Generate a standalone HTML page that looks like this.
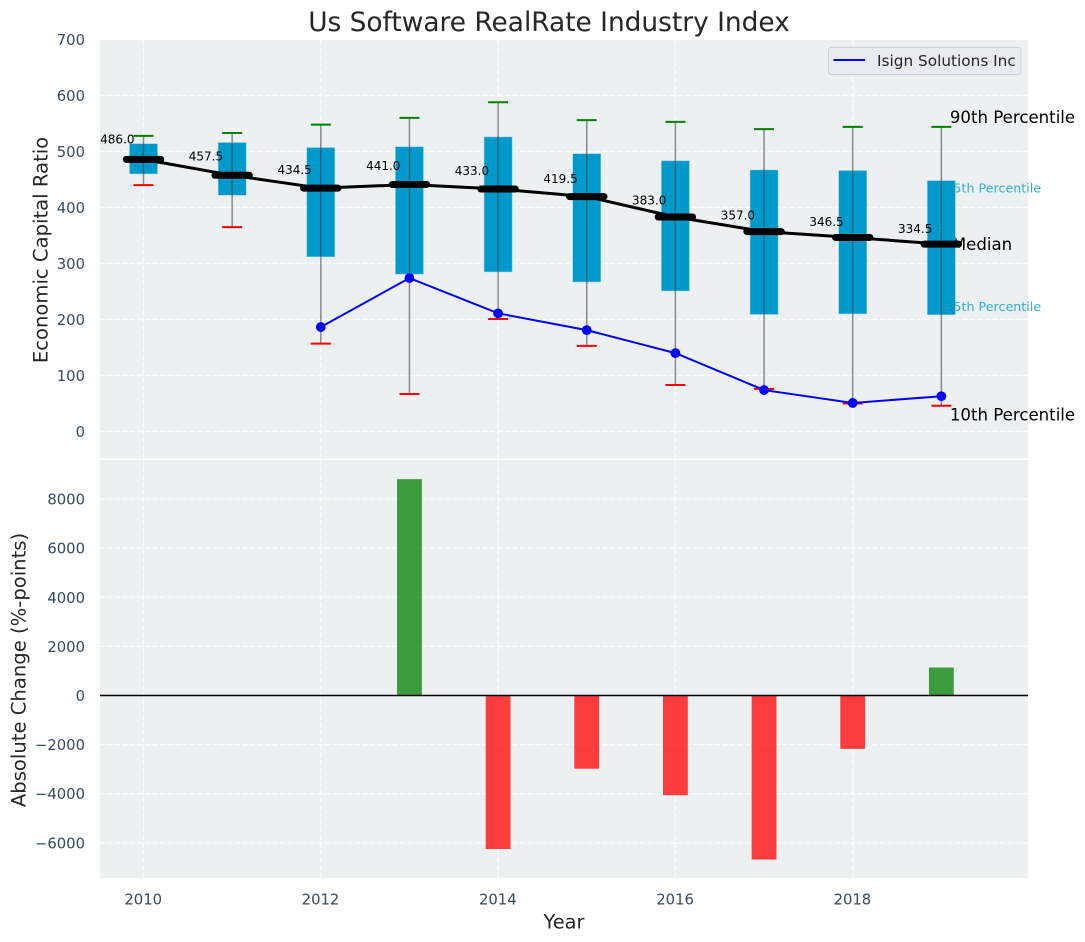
<!DOCTYPE html>
<html lang="en">
<head>
<meta charset="utf-8">
<title>Us Software RealRate Industry Index</title>
<style>
html,body{margin:0;padding:0;background:#fff;width:1085px;height:942px;overflow:hidden}
svg{display:block;font-family:"DejaVu Sans","Liberation Sans",sans-serif}
</style>
</head>
<body>
<svg id="chart" xmlns="http://www.w3.org/2000/svg" width="1085" height="942" viewBox="0 0 1085 942">
  <rect width="1085" height="942" fill="#ffffff"/>
  <rect x="100" y="40" width="928" height="418.5" fill="#ecf0f1"/>
  <rect x="100" y="460" width="928" height="418" fill="#ecf0f1"/>
  <g id="grid"></g>
  <g id="under"></g>
  <g id="bars"></g>
  <g id="boxes"></g>
  <g id="axes"></g>
  <text x="549" y="31" font-size="26.4px" fill="#262626" text-anchor="middle">Us Software RealRate Industry Index</text>
  <text transform="translate(47.5,250) rotate(-90)" font-size="19.6px" fill="#262626" text-anchor="middle">Economic Capital Ratio</text>
  <text transform="translate(25.5,670) rotate(-90)" font-size="19.6px" fill="#262626" text-anchor="middle">Absolute Change (%-points)</text>
  <text x="564" y="928.5" font-size="19.4px" fill="#262626" text-anchor="middle">Year</text>
  <g>
    <rect x="828.5" y="47.5" width="192.5" height="27" rx="3" fill="#eaeaf2" stroke="#cfd0d6" stroke-width="1"/>
    <line x1="833.5" y1="60" x2="865" y2="60" stroke="#0000ff" stroke-width="2"/>
    <text x="877" y="66" font-size="15.3px" fill="#262626">Isign Solutions Inc</text>
  </g>
</svg>
<script>
const years = [2010, 2011, 2012, 2013, 2014, 2015, 2016, 2017, 2018, 2019];
const p90 = [528, 533, 548, 560, 588, 556, 553, 540, 544, 544];
const p75 = [514, 516, 507, 508.5, 526, 496, 483.5, 467, 466, 448];
const median = [486.0, 457.5, 434.5, 441.0, 433.0, 419.5, 383.0, 357.0, 346.5, 334.5];
const p25 = [460, 422, 312, 281, 285, 267, 251, 209, 210, 208.5];
const p10 = [440, 365, 157, 67, 201, 153, 83, 76, 50, 46];
const companyYears = [2012, 2013, 2014, 2015, 2016, 2017, 2018, 2019];
const companyValues = [186.5, 274, 211, 181, 140, 74, 51, 63];
const changeYears = [2013, 2014, 2015, 2016, 2017, 2018, 2019];
const changeValues = [8810, -6250, -2980, -4060, -6680, -2170, 1140];
const xTicks = [2010, 2012, 2014, 2016, 2018];
const topYTicks = [0, 100, 200, 300, 400, 500, 600, 700];
const bottomYTicks = [-6000, -4000, -2000, 0, 2000, 4000, 6000, 8000];

const NS = 'http://www.w3.org/2000/svg';
const xScale = v => 143.5 + (v - 2010) * 88.65;
const yTop = v => 431.5 - v * 0.56;
const yBottom = v => 695.5 - v * 0.02456;
const PLOT_LEFT = 100, PLOT_RIGHT = 1028;

function make(parent, tag, props, text) {
  const el = document.createElementNS(NS, tag);
  for (const k in props) el.setAttribute(k, props[k]);
  if (text !== undefined) el.textContent = text;
  document.getElementById(parent).appendChild(el);
  return el;
}
const GRID = {stroke: '#ffffff', 'stroke-width': 1.2, 'stroke-dasharray': '5 2.5', 'stroke-opacity': 0.85};

topYTicks.forEach(t => {
  const el = make('grid', 'line', {x1: PLOT_LEFT, x2: PLOT_RIGHT, y1: yTop(t), y2: yTop(t), ...GRID});
  
  
  const lab = make('axes', 'text', {x: 85, y: yTop(t) + 5.5, 'font-size': '14.8px', fill: '#34495e', 'text-anchor': 'end'}, String(t));
  
  
});
bottomYTicks.forEach(t => {
  const el = make('grid', 'line', {x1: PLOT_LEFT, x2: PLOT_RIGHT, y1: yBottom(t), y2: yBottom(t), ...GRID});
  
  
  const lab = make('axes', 'text', {x: 85, y: yBottom(t) + 5.5, 'font-size': '14.8px', fill: '#34495e', 'text-anchor': 'end'}, String(t).replace('-', '\u2212'));
  
  
});
xTicks.forEach(t => {
  const a = make('grid', 'line', {x1: xScale(t), x2: xScale(t), y1: 40, y2: 458.5, ...GRID});
  
  
  const b = make('grid', 'line', {x1: xScale(t), x2: xScale(t), y1: 460, y2: 878, ...GRID});
  
  
  const lab = make('axes', 'text', {x: xScale(t) - 0.3, y: 904.5, 'font-size': '14.8px', fill: '#34495e', 'text-anchor': 'middle'}, String(t));
  
  
});

const last = years.length - 1;
const l75 = make('under', 'text', {x: xScale(years[last]) + 4, y: yTop(p75[last]) + 11.7, 'font-size': '12.7px', fill: '#1ea5d2', 'fill-opacity': 0.9}, '75th Percentile');


const l25 = make('under', 'text', {x: xScale(years[last]) + 4, y: yTop(p25[last]) - 3.7, 'font-size': '12.7px', fill: '#1ea5d2', 'fill-opacity': 0.9}, '25th Percentile');


const lMed = make('under', 'text', {x: xScale(years[last]) + 10.5, y: yTop(median[last]) + 6, 'font-size': '16.6px', fill: '#000000'}, 'Median');



changeYears.forEach((yr, i) => {
  const v = changeValues[i], y0 = yBottom(0), y1 = yBottom(v);
  const bar = make('bars', 'rect', {x: xScale(yr) - 12.4, width: 24.8, y: Math.min(y0, y1), height: Math.abs(y1 - y0),
    fill: v >= 0 ? '#008000' : '#ff0000', 'fill-opacity': 0.75});
  
  
});
const zero = make('bars', 'line', {x1: PLOT_LEFT, x2: PLOT_RIGHT, y1: yBottom(0), y2: yBottom(0), stroke: '#000000', 'stroke-width': 1.4});



years.forEach((yr, i) => {
  const cx = xScale(yr);
  const box = make('boxes', 'rect', {x: cx - 14, width: 28, y: yTop(p75[i]), height: yTop(p25[i]) - yTop(p75[i]), fill: '#0099cc', stroke: '#8fcde3', 'stroke-width': 0.5});
  
  
  const whisker = make('boxes', 'line', {x1: cx, x2: cx, y1: yTop(p90[i]), y2: yTop(p10[i]), stroke: '#444444', 'stroke-opacity': 0.6, 'stroke-width': 1.5});
  
  
  const capHigh = make('boxes', 'line', {x1: cx - 10, x2: cx + 10, y1: yTop(p90[i]), y2: yTop(p90[i]), stroke: '#008000', 'stroke-width': 2});
  
  
  const capLow = make('boxes', 'line', {x1: cx - 10, x2: cx + 10, y1: yTop(p10[i]), y2: yTop(p10[i]), stroke: '#ff0000', 'stroke-width': 2});
  
  
});

const medianLine = make('boxes', 'polyline', {points: years.map((yr, i) => xScale(yr) + ',' + yTop(median[i])).join(' '), fill: 'none', stroke: '#000000', 'stroke-width': 3});


years.forEach((yr, i) => {
  const cx = xScale(yr), cy = yTop(median[i]);
  const m = make('boxes', 'line', {x1: cx - 17.2, x2: cx + 17.2, y1: cy, y2: cy, stroke: '#000000', 'stroke-width': 7, 'stroke-linecap': 'round'});
  
  
  const lab = make('boxes', 'text', {x: cx - 9, y: yTop(median[i] * 1.05) - 2, 'font-size': '12px', fill: '#000000', 'text-anchor': 'end'}, median[i].toFixed(1));
  
  
});

const companyLine = make('boxes', 'polyline', {points: companyYears.map((yr, i) => xScale(yr) + ',' + yTop(companyValues[i])).join(' '), fill: 'none', stroke: '#0000ff', 'stroke-width': 2});


companyYears.forEach((yr, i) => {
  const dot = make('boxes', 'circle', {cx: xScale(yr), cy: yTop(companyValues[i]), r: 4.9, fill: '#0000ff'});
  
  
});

const l90 = make('boxes', 'text', {x: xScale(years[last]) + 8.5, y: yTop(p90[last]) - 4, 'font-size': '16.6px', fill: '#000000'}, '90th Percentile');


const l10 = make('boxes', 'text', {x: xScale(years[last]) + 8.5, y: yTop(p10[last]) + 15, 'font-size': '16.6px', fill: '#000000'}, '10th Percentile');


</script>
</body>
</html>
